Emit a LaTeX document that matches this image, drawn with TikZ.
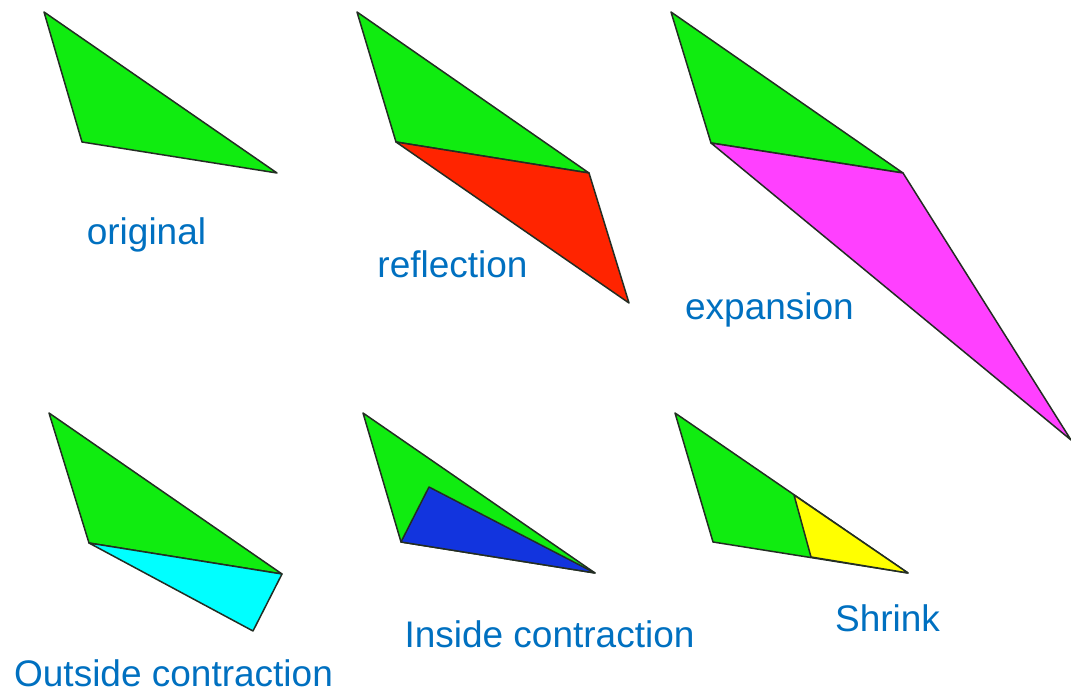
\documentclass[tikz,border=0pt]{standalone}
\usepackage{fontspec}
\setmainfont{Liberation Sans}
\definecolor{tgreen}{RGB}{16,236,16}
\definecolor{tred}{RGB}{255,36,0}
\definecolor{tmag}{RGB}{255,64,255}
\definecolor{tcyan}{RGB}{0,255,255}
\definecolor{tblue}{RGB}{18,52,222}
\definecolor{tyellow}{RGB}{255,255,0}
\definecolor{tedge}{RGB}{35,45,35}
\definecolor{ttext}{RGB}{0,112,192}
\begin{document}
\begin{tikzpicture}[x=0.5pt,y=-0.5pt,
  tri/.style={draw=tedge,line width=0.75pt,line join=round},
  lbl/.style={anchor=base,inner sep=0pt,text=ttext,font=\fontsize{18.5}{22}\selectfont}]
\useasboundingbox (0,0) rectangle (1071,694);
% original
\coordinate (oA) at (44,12); \coordinate (oB) at (82,142); \coordinate (oC) at (277,173);
\draw[tri,fill=tgreen] (oA) -- (oB) -- (oC) -- cycle;
\node[lbl] (lo) at (146.5,245) {original};
% reflection
\coordinate (rA) at (357,12); \coordinate (rB) at (396,142); \coordinate (rC) at (589,173); \coordinate (rR) at (629,303);
\draw[tri,fill=tgreen] (rA) -- (rB) -- (rC) -- cycle;
\draw[tri,fill=tred] (rB) -- (rC) -- (rR) -- cycle;
\node[lbl] (lr) at (452.5,278) {reflection};
% expansion
\coordinate (eA) at (671,12); \coordinate (eB) at (711,143); \coordinate (eC) at (903,173); \coordinate (eE) at (1071,440);
\draw[tri,fill=tgreen] (eA) -- (eB) -- (eC) -- cycle;
\draw[tri,fill=tmag] (eB) -- (eC) -- (eE) -- cycle;
\node[lbl] (le) at (769.5,320) {expansion};
% outside contraction
\coordinate (cA) at (49,413); \coordinate (cB) at (89,543); \coordinate (cC) at (282,574); \coordinate (cO) at (253,631);
\draw[tri,fill=tgreen] (cA) -- (cB) -- (cC) -- cycle;
\draw[tri,fill=tcyan] (cB) -- (cC) -- (cO) -- cycle;
\node[lbl] (lc) at (173.5,687) {Outside contraction};
% inside contraction
\coordinate (iA) at (363,413); \coordinate (iB) at (401,542); \coordinate (iC) at (595,573); \coordinate (iI) at (429,487);
\draw[tri,fill=tgreen] (iA) -- (iB) -- (iC) -- cycle;
\draw[tri,fill=tblue] (iB) -- (iC) -- (iI) -- cycle;
\node[lbl] (li) at (549.5,647) {Inside contraction};
% shrink
\coordinate (sA) at (675,413); \coordinate (sB) at (713,542); \coordinate (sC) at (908,573);
\coordinate (sM) at (794,495); \coordinate (sN) at (811,557);
\draw[tri,fill=tgreen] (sA) -- (sB) -- (sC) -- cycle;
\draw[tri,fill=tyellow] (sM) -- (sN) -- (sC) -- cycle;
\node[lbl] (ls) at (887.5,632) {Shrink};
\end{tikzpicture}
\end{document}
